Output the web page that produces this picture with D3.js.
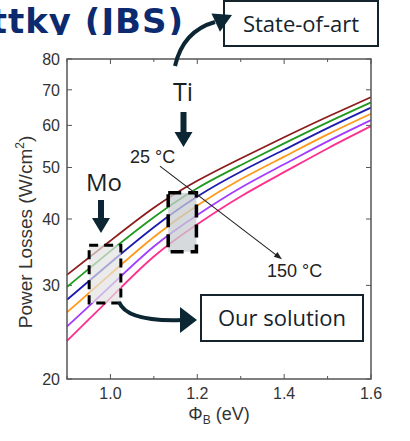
<!DOCTYPE html>
<html>
<head>
<meta charset="utf-8">
<script src="https://cdn.jsdelivr.net/npm/d3@7"></script>
<style>
  body { margin: 0; background: #fff; }
  svg { display: block; }
</style>
</head>
<body>
<svg id="chart" width="410" height="441"></svg>
<script>
// barrier height (eV) at which the curves were read
const phiB = [0.9, 1.0, 1.1, 1.2, 1.3, 1.4, 1.5, 1.6];

// power losses (W/cm2), 25 °C ... 150 °C
const loss25  = [31.4, 36.4, 42.0, 47.2, 52.0, 57.0, 62.3, 67.8];
const loss50  = [29.8, 34.8, 40.3, 45.7, 50.5, 55.5, 60.8, 66.3];
const loss75  = [28.2, 33.1, 38.6, 44.1, 49.1, 54.0, 59.3, 64.8];
const loss100 = [26.7, 31.5, 37.0, 42.4, 47.5, 52.4, 57.7, 63.1];
const loss125 = [25.1, 29.9, 35.5, 40.7, 45.8, 50.7, 56.0, 61.4];
const loss150 = [23.6, 28.4, 34.0, 39.1, 44.1, 49.0, 54.3, 59.8];

const series = [loss25, loss50, loss75, loss100, loss125, loss150];
const colors = ["#8c1c1c", "#1f9a1f", "#1c1cb0", "#ff9a1a", "#a33cff", "#ff2f8f"];

const xTicks = [0.9, 1.0, 1.1, 1.2, 1.3, 1.4, 1.5, 1.6];
const xLabels = [1.0, 1.2, 1.4, 1.6];
const yTicks = [20, 30, 40, 50, 60, 70, 80];

// metal boxes in data units [x0, x1, yLow, yHigh]
const moBox = [0.951, 1.024, 27.8, 35.7];
const tiBox = [1.133, 1.198, 34.7, 44.8];

const svg = d3.select("#chart");

// slide title, its lower edge hidden behind the chart picture
svg.append("defs").append("clipPath").attr("id", "titleClip")
    .append("rect").attr("x", 0).attr("y", 0).attr("width", 220).attr("height", 35);

svg.append("text")
    .attr("clip-path", "url(#titleClip)")
    .attr("x", 184).attr("y", 33)
    .attr("text-anchor", "end")
    .attr("font-family", "DejaVu Sans, sans-serif")
    .attr("font-weight", "bold")
    .attr("font-size", 34)
    .attr("letter-spacing", 1)
    .attr("fill", "#0b2a6f")
    .text("Schottky (JBS)");

const mLeft = 67, mRight = 371, mTop = 59, mBottom = 379;

const x = d3.scaleLinear().domain([0.9, 1.6]).range([mLeft, mRight]);
const y = d3.scaleLog().domain([20, 80]).range([mBottom, mTop]);

const font = "Liberation Sans, Arial, sans-serif";

// ticks on all four sides, pointing in
const tickG = svg.append("g").attr("stroke", "#555").attr("stroke-width", 1);
xTicks.forEach((t, i) => {
    const len = i % 2 === 1 ? 5 : 3;
    tickG.append("line").attr("x1", x(t)).attr("x2", x(t)).attr("y1", mBottom).attr("y2", mBottom - len);
    tickG.append("line").attr("x1", x(t)).attr("x2", x(t)).attr("y1", mTop).attr("y2", mTop + len);
});
yTicks.forEach(t => {
    tickG.append("line").attr("x1", mLeft).attr("x2", mLeft + 5).attr("y1", y(t)).attr("y2", y(t));
    tickG.append("line").attr("x1", mRight).attr("x2", mRight - 5).attr("y1", y(t)).attr("y2", y(t));
});

svg.append("g").selectAll("text")
    .data(xLabels)
    .enter()
    .append("text")
    .attr("x", d => x(d))
    .attr("y", mBottom + 20)
    .attr("text-anchor", "middle")
    .attr("font-family", font).attr("font-size", 16).attr("fill", "#333")
    .text(d => d.toFixed(1));

svg.append("g").selectAll("text")
    .data(yTicks)
    .enter()
    .append("text")
    .attr("x", mLeft - 7)
    .attr("y", d => y(d) + 6)
    .attr("text-anchor", "end")
    .attr("font-family", font).attr("font-size", 16).attr("fill", "#333")
    .text(d => d);

// axis titles
const xt = svg.append("text")
    .attr("x", 219).attr("y", 420)
    .attr("text-anchor", "middle")
    .attr("font-family", font).attr("font-size", 18).attr("fill", "#333");
xt.append("tspan").text("Φ");
xt.append("tspan").attr("font-size", 12).attr("dy", 4).text("B");
xt.append("tspan").attr("dy", -4).text(" (eV)");

const yt = svg.append("text")
    .attr("transform", "translate(32,232) rotate(-90)")
    .attr("text-anchor", "middle")
    .attr("font-family", font).attr("font-size", 19).attr("fill", "#333");
yt.append("tspan").text("Power Losses (W/cm");
yt.append("tspan").attr("font-size", 12).attr("dy", -8).text("2");
yt.append("tspan").attr("dy", 8).text(")");

// curves
const line = d3.line()
    .x((d, i) => x(phiB[i]))
    .y(d => y(d))
    .curve(d3.curveNatural);

svg.append("g").selectAll("path")
    .data(series)
    .enter()
    .append("path")
    .attr("d", line)
    .attr("fill", "none")
    .attr("stroke", (d, i) => colors[i])
    .attr("stroke-width", 1.8);

// frame
svg.append("rect")
    .attr("x", mLeft).attr("y", mTop)
    .attr("width", mRight - mLeft).attr("height", mBottom - mTop)
    .attr("fill", "none").attr("stroke", "#555").attr("stroke-width", 1.5);

// dashed metal boxes
function metalBox(b, fill, op, dash, sw) {
    svg.append("rect")
        .attr("x", x(b[0])).attr("y", y(b[3]))
        .attr("width", x(b[1]) - x(b[0])).attr("height", y(b[2]) - y(b[3]))
        .attr("fill", fill).attr("fill-opacity", op)
        .attr("stroke", "#000").attr("stroke-width", sw)
        .attr("stroke-dasharray", dash);
}
metalBox(moBox, "#e2e2e2", 0.7, "9,6", 3);
metalBox(tiBox, "#c9cdd2", 0.75, "13,7", 3.5);

// temperature arrow 25 °C -> 150 °C
const t0 = [x(1.114), y(50.3)], t1 = [x(1.395), y(33.6)];
svg.append("line")
    .attr("x1", t0[0]).attr("y1", t0[1]).attr("x2", t1[0] - 5).attr("y2", t1[1] - 3.6)
    .attr("stroke", "#222").attr("stroke-width", 1.1);
const ang = Math.atan2(t1[1] - t0[1], t1[0] - t0[0]);
const head = (tip, a, len, w) => {
    const bx = tip[0] - len * Math.cos(a), by = tip[1] - len * Math.sin(a);
    const px = w * Math.sin(a), py = -w * Math.cos(a);
    return `M${tip[0]},${tip[1]}L${bx + px},${by + py}L${bx - px},${by - py}Z`;
};
svg.append("path").attr("d", head(t1, ang, 8, 3)).attr("fill", "#222");

const label = (tx, ty, s, size, anchor) => svg.append("text")
    .attr("x", tx).attr("y", ty)
    .attr("text-anchor", anchor || "start")
    .attr("font-family", font).attr("font-size", size).attr("fill", "#222")
    .text(s);
label(130, 163, "25 °C", 18);
label(267, 277, "150 °C", 18);

// metal labels with thick down arrows
const ann = "Open Sans, sans-serif";
const dark = "#0c2733";
svg.append("text").attr("x", 183).attr("y", 101).attr("text-anchor", "middle")
    .attr("font-family", ann).attr("font-size", 25).attr("fill", "#1a1f24").text("Ti");
svg.append("text").attr("x", 104).attr("y", 191).attr("text-anchor", "middle")
    .attr("font-family", ann).attr("font-size", 24).attr("fill", "#1a1f24").text("Mo");

function downArrow(cx, y0, y1) {
    svg.append("path")
        .attr("d", `M${cx - 3},${y0}L${cx + 3},${y0}L${cx + 3},${y1 - 15}L${cx + 9},${y1 - 15}L${cx},${y1}L${cx - 9},${y1 - 15}L${cx - 3},${y1 - 15}Z`)
        .attr("fill", dark);
}
downArrow(183.5, 112, 147);
downArrow(101, 200, 233);

// callout boxes
function callout(bx, by, bw, bh, s) {
    svg.append("rect")
        .attr("x", bx).attr("y", by).attr("width", bw).attr("height", bh)
        .attr("fill", "#fff").attr("stroke", "#14232c").attr("stroke-width", 2);
    svg.append("text")
        .attr("x", bx + bw / 2).attr("y", by + bh / 2 + 8)
        .attr("text-anchor", "middle")
        .attr("font-family", ann).attr("font-size", 22).attr("fill", "#14232c")
        .text(s);
}
callout(224, 1, 154, 45, "State-of-art");
callout(201, 295, 162, 46, "Our solution");

// curved arrows to the callouts
svg.append("path").attr("d", "M175,66 Q183,31 215,22")
    .attr("fill", "none").attr("stroke", dark).attr("stroke-width", 4);
svg.append("path").attr("d", head([232, 15], Math.atan2(-8, 17), 18, 10)).attr("fill", dark);

svg.append("path").attr("d", "M119,302 Q127,322 182,320")
    .attr("fill", "none").attr("stroke", dark).attr("stroke-width", 4);
svg.append("path").attr("d", head([197, 320], 0, 17, 13)).attr("fill", dark);
</script>
</body>
</html>
